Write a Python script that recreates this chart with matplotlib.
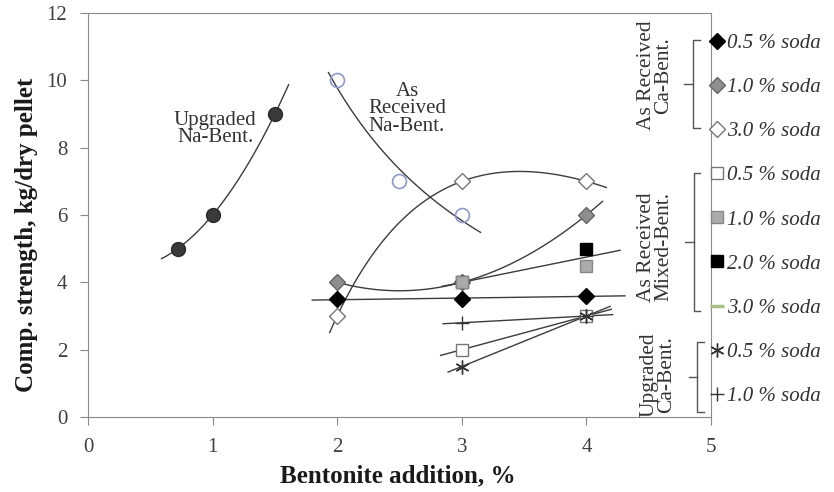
import numpy as np
import matplotlib.pyplot as plt
from matplotlib.lines import Line2D

plt.rcParams['font.family'] = ['Liberation Serif', 'DejaVu Serif']

# --- data ------------------------------------------------------------------
na_up_x = [0.72, 1.0, 1.5]
na_up_y = [5.0, 6.0, 9.0]

na_ar_x = [2.0, 2.5, 3.0]
na_ar_y = [10.0, 7.0, 6.0]

ca_x = [2, 3, 4]
ca_05 = [3.5, 3.5, 3.6]
ca_10 = [4.0, 4.0, 6.0]
ca_30 = [3.0, 7.0, 7.0]

mix_x = [3, 4]
mix_05 = [2.0, 3.0]
mix_10 = [4.0, 4.5]
mix_20 = [4.0, 5.0]
mix_30_x = [4]
mix_30 = [3.0]

upca_x = [3, 4]
upca_05 = [1.5, 3.0]
upca_10 = [2.8, 3.0]

legend_labels = ['0.5 % soda', '1.0 % soda', '3.0 % soda',
                 '0.5 % soda', '1.0 % soda', '2.0 % soda', '3.0 % soda',
                 '0.5 % soda', '1.0 % soda']

TREND = '#3c3c3c'


def trend(ax, x, y, lo, hi, kind='poly1'):
    x = np.asarray(x, float)
    y = np.asarray(y, float)
    xs = np.linspace(lo, hi, 200)
    if kind == 'poly1':
        ys = np.polyval(np.polyfit(x, y, 1), xs)
    elif kind == 'poly2':
        ys = np.polyval(np.polyfit(x, y, 2), xs)
    elif kind == 'logpoly2':
        ys = np.polyval(np.polyfit(np.log(x), y, 2), np.log(xs))
    elif kind == 'power':
        b, a = np.polyfit(np.log(x), np.log(y), 1)
        ys = np.exp(a) * xs ** b
    ax.plot(xs, ys, color=TREND, lw=1.0, zorder=2)


fig = plt.figure(figsize=(8.34, 4.92), dpi=100)
ax = fig.add_axes([0.1055, 0.1524, 0.747, 0.8212])

# trendlines
trend(ax, na_up_x, na_up_y, 0.59, 1.61, 'poly2')
trend(ax, na_ar_x, na_ar_y, 1.93, 3.15, 'power')
trend(ax, ca_x, ca_05, 1.80, 4.31, 'poly1')
trend(ax, ca_x, ca_10, 2.00, 4.13, 'poly2')
trend(ax, ca_x, ca_30, 1.94, 4.16, 'logpoly2')
trend(ax, mix_x, mix_05, 2.83, 4.20, 'poly1')
trend(ax, mix_x + mix_x, mix_10 + mix_20, 2.84, 4.27, 'poly1')
trend(ax, upca_x, upca_05, 2.89, 4.19, 'poly1')
trend(ax, upca_x, upca_10, 2.85, 4.21, 'poly1')

# markers
styles = {
    'ca05': dict(marker='D', ms=8, mfc='black', mec='black'),
    'ca10': dict(marker='D', ms=8, mfc='#8e8e8e', mec='#666666'),
    'ca30': dict(marker='D', ms=8, mfc='white', mec='#777777'),
    'mix05': dict(marker='s', ms=9, mfc='white', mec='#777777'),
    'mix10': dict(marker='s', ms=9, mfc='#ababab', mec='#888888'),
    'mix20': dict(marker='s', ms=9, mfc='black', mec='black'),
    'mix30': dict(marker='_', ms=10, mec='#a8c088', mew=2.5),
    'up05': dict(marker=(6, 2, 0), ms=10, mec='#333333', mew=1.0),
    'up10': dict(marker='+', ms=10, mec='#333333', mew=1.0),
}

ax.plot(na_up_x, na_up_y, 'o', ms=10, mfc='#3a3a3a', mec='#2a2a2a', zorder=3)
ax.plot(na_ar_x, na_ar_y, 'o', ms=10, mfc='none', mec='#8f9ac8', mew=1.2, zorder=3)

ax.plot(mix_30_x, mix_30, ls='none', zorder=3, **styles['mix30'])
ax.plot(ca_x, ca_30, ls='none', zorder=3, **styles['ca30'])
ax.plot(ca_x, ca_10, ls='none', zorder=3, **styles['ca10'])
ax.plot(ca_x, ca_05, ls='none', zorder=3, **styles['ca05'])
ax.plot(mix_x, mix_05, ls='none', zorder=3, **styles['mix05'])
ax.plot(mix_x, mix_20, ls='none', zorder=3, **styles['mix20'])
ax.plot(mix_x, mix_10, ls='none', zorder=3, **styles['mix10'])
ax.plot(upca_x, upca_05, ls='none', zorder=4, **styles['up05'])
ax.plot(upca_x, upca_10, ls='none', zorder=4, **styles['up10'])

# in-plot labels
ax.text(1.02, 8.55, 'Upgraded\nNa-Bent.', ha='center', va='center',
        fontsize=15, color='#333333', linespacing=0.85)
ax.text(2.56, 9.15, 'As\nReceived\nNa-Bent.', ha='center', va='center',
        fontsize=15, color='#333333', linespacing=0.9)

# group brackets on the right edge: x, top, bottom, label, label x, label y
brackets = [(4.855, 11.19, 8.58, 'As Received\nCa-Bent.', 4.55, 10.15),
            (4.86, 7.24, 3.15, 'As Received\nMixed-Bent.', 4.55, 5.05),
            (4.89, 2.23, 0.15, 'Upgraded\nCa-Bent.', 4.57, 1.25)]
for bx, top, bot, lab, lx, ly in brackets:
    mid = (top + bot) / 2
    ax.plot([bx + 0.055, bx, bx, bx + 0.055], [top, top, bot, bot],
            color='#555555', lw=1.0, clip_on=False, zorder=2)
    ax.plot([bx, bx - 0.07], [mid, mid], color='#555555', lw=1.0,
            clip_on=False, zorder=2)
    ax.text(lx, ly, lab, rotation=90, ha='center', va='center',
            fontsize=15.5, color='#333333', linespacing=0.9)

# legend outside the right spine
handles = [Line2D([], [], ls='none', **styles[k]) for k in
           ['ca05', 'ca10', 'ca30', 'mix05', 'mix10', 'mix20', 'mix30',
            'up05', 'up10']]
leg = ax.legend(handles, legend_labels, loc='upper left',
                bbox_to_anchor=(0.995, 0.955), frameon=False,
                handlelength=0.7, handletextpad=0.12, labelspacing=1.18,
                borderpad=0.1, borderaxespad=0.0,
                prop={'size': 15, 'style': 'italic'})
for t in leg.get_texts():
    t.set_color('#333333')

ax.set_xlim(0, 5)
ax.set_ylim(0, 12)
ax.set_xticks(range(0, 6))
ax.set_yticks(range(0, 13, 2))
for s in ax.spines.values():
    s.set_color('#8a8a8a')
ax.tick_params(direction='out', length=6, color='#8a8a8a', labelsize=15,
               labelcolor='#404040', pad=9)

ax.set_xlabel('Bentonite addition, %', fontsize=18, fontweight='bold',
              color='#1a1a1a')
ax.set_ylabel('Comp. strength, kg/dry pellet', fontsize=18,
              fontweight='bold', color='#1a1a1a')
ax.xaxis.set_label_coords(0.497, -0.118)
ax.yaxis.set_label_coords(-0.08, 0.45)

fig.savefig('out.png', dpi=100)
